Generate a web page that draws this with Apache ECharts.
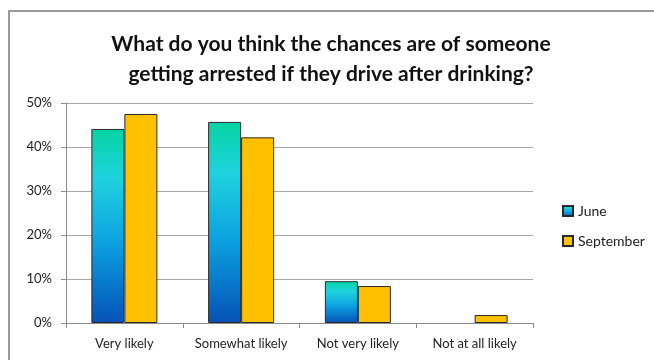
<!DOCTYPE html>
<html>
<head>
<meta charset="utf-8">
<script src="https://cdn.jsdelivr.net/npm/echarts@6/dist/echarts.min.js"></script>
<style>
  html, body { margin: 0; padding: 0; background: #fff; }
  #chart { width: 654px; height: 360px; }
</style>
</head>
<body>
<div id="chart"></div>
<script>
// 数据
const categories = ["Very likely", "Somewhat likely", "Not very likely", "Not at all likely"];
const juneValues = [44.1, 45.7, 9.5, null];
const septemberValues = [47.5, 42.2, 8.4, 1.8];
const yTicks = [0, 10, 20, 30, 40, 50];

const fontFamily = "Lato, 'Open Sans', sans-serif";

const juneColor = new echarts.graphic.LinearGradient(0, 0, 0, 1, [
  { offset: 0, color: "#05d3a2" },
  { offset: 0.25, color: "#1fd3de" },
  { offset: 0.6, color: "#0c9fe0" },
  { offset: 1, color: "#0552b6" },
]);

const chart = echarts.init(document.getElementById("chart"));
chart.setOption({
  animation: false,
  textStyle: { fontFamily },
  title: {
    text: "What do you think the chances are of someone\ngetting arrested if they drive after drinking?",
    left: 326,
    textAlign: "center",
    top: 24,
    textStyle: {
      fontFamily,
      fontSize: 21,
      fontWeight: "bold",
      color: "#111",
      lineHeight: 30,
    },
  },
  graphic: [
    {
      type: "polyline",
      shape: { points: [[9, 360], [9, 11], [654, 11]] },
      style: { stroke: "#9a9a9a", lineWidth: 2, fill: null },
    },
  ],
  legend: {
    orient: "vertical",
    left: 557,
    top: 199,
    itemWidth: 10,
    itemHeight: 10,
    itemGap: 16,
    icon: "rect",
    textStyle: { fontFamily, fontSize: 14, color: "#222" },
    data: ["June", "September"],
  },
  grid: {
    left: 66,
    right: 121,
    top: 103,
    bottom: 37,
  },
  xAxis: {
    type: "category",
    data: categories,
    axisLine: { lineStyle: { color: "#8c8c8c", width: 1 } },
    axisTick: { show: true, length: 5, lineStyle: { color: "#8c8c8c" } },
    axisLabel: { fontFamily, fontSize: 13, color: "#222", margin: 14, interval: 0 },
  },
  yAxis: {
    type: "value",
    min: yTicks[0],
    max: yTicks[yTicks.length - 1],
    interval: 10,
    axisLine: { show: true, lineStyle: { color: "#8c8c8c", width: 1 } },
    axisTick: { show: true, length: 5, lineStyle: { color: "#8c8c8c" } },
    axisLabel: { fontFamily, fontSize: 13, color: "#222", margin: 14, formatter: "{value}%" },
    splitLine: { lineStyle: { color: "#a6a6a6", width: 1 } },
  },
  series: [
    {
      name: "June",
      type: "bar",
      data: juneValues,
      barWidth: 33,
      barGap: "0%",
      itemStyle: { color: juneColor, borderColor: "#2a2a2a", borderWidth: 1 },
    },
    {
      name: "September",
      type: "bar",
      data: septemberValues,
      barWidth: 33,
      barGap: "0%",
      itemStyle: { color: "#ffc000", borderColor: "#2a2a2a", borderWidth: 1 },
    },
  ],
});
window.addEventListener("resize", () => {
  chart.resize();
});
</script>
</body>
</html>
